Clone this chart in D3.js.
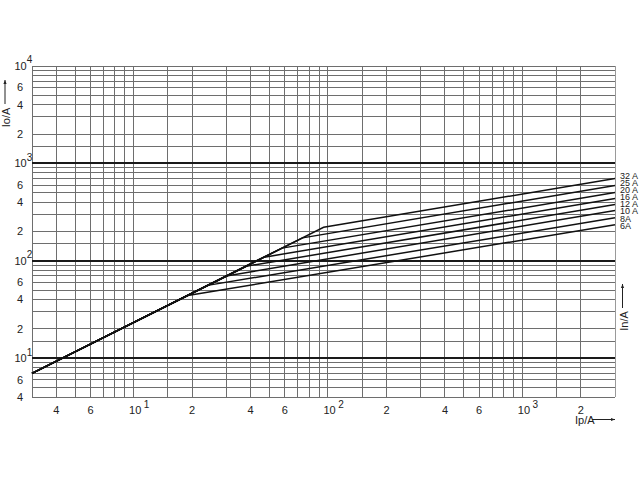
<!DOCTYPE html>
<html>
<head>
<meta charset="utf-8">
<style>
  body { margin: 0; background: #fff; }
  text { font-family: "Liberation Sans", Arial, sans-serif; fill: #222; }
</style>
<title>Cut-off current characteristic</title>
</head>
<body>
<div id="chart"></div>
<script src="https://cdnjs.cloudflare.com/ajax/libs/d3/7.8.5/d3.min.js"></script>
<script>
var width = 640, height = 480;
var box = {left: 32, right: 615, top: 66, bottom: 397};

// prospective current Ip (A) -> cut-off current Io (A)
var startIp = 3, startIo = 7;
var ratings = ['6A', '8A', '10 A', '12 A', '16 A', '20 A', '25 A', '32 A'];
var breakIp = [19, 24, 30, 38, 47, 58, 74, 95];
var breakIo = [44, 56, 70, 88, 109, 135, 172, 221];
var endIp = 3000;
var endIo = [235, 277, 328, 378, 436, 502, 593, 700];

var gridSteps = [1, 1.5, 2, 3, 4, 5, 6, 7, 8, 9];
var decades = [1, 10, 100, 1000, 10000];
var xTicks = [4, 6, 10, 20, 40, 60, 100, 200, 400, 600, 1000, 2000];
var yTicks = [4, 6, 10, 20, 40, 60, 100, 200, 400, 600, 1000, 2000, 4000, 6000, 10000];

var x = d3.scaleLog().domain([3, 3000]).range([box.left, box.right]);
var y = d3.scaleLog().domain([4, 10000]).range([box.bottom, box.top]);

var svg = d3.select('#chart').append('svg')
  .attr('width', width)
  .attr('height', height);

// grid values inside the domains
function gridValues(scale) {
  var d = scale.domain(), out = [];
  decades.forEach(function(dec) {
    gridSteps.forEach(function(s) {
      var v = +(dec * s).toPrecision(6);
      if (v >= d[0] - 1e-9 && v <= d[1] + 1e-9) out.push(v);
    });
  });
  return out;
}
function isDecade(v) { return Math.abs(Math.log10(v) - Math.round(Math.log10(v))) < 1e-9; }

var grid = svg.append('g').attr('shape-rendering', 'crispEdges');

grid.selectAll('.vgrid')
  .data(gridValues(x))
  .enter().append('line')
  .attr('x1', function(d) { return x(d); })
  .attr('x2', function(d) { return x(d); })
  .attr('y1', box.top)
  .attr('y2', box.bottom)
  .style('stroke', '#6e6e6e')
  .style('stroke-width', 1);

grid.selectAll('.hgrid')
  .data(gridValues(y))
  .enter().append('line')
  .attr('x1', box.left)
  .attr('x2', box.right)
  .attr('y1', function(d) { return y(d); })
  .attr('y2', function(d) { return y(d); })
  .style('stroke', function(d) { return isDecade(d) && d < 10000 ? '#1a1a1a' : '#6e6e6e'; })
  .style('stroke-width', function(d) { return isDecade(d) && d < 10000 ? 2 : 1; });

// right edge of the frame
grid.append('line')
  .attr('x1', x(3000)).attr('x2', x(3000))
  .attr('y1', box.top).attr('y2', box.bottom)
  .style('stroke', '#9a9a9a');

// curves
var line = d3.line()
  .x(function(d) { return x(d[0]); })
  .y(function(d) { return y(d[1]); });

var curves = ratings.map(function(r, i) {
  return [[startIp, startIo], [breakIp[i], breakIo[i]], [endIp, endIo[i]]];
});

svg.selectAll('.curve')
  .data(curves)
  .enter().append('path')
  .attr('d', line)
  .style('fill', 'none')
  .style('stroke', '#111')
  .style('stroke-width', 1.5);

// rating labels, stacked evenly beside the line ends
var labelY = d3.scaleLinear()
  .domain([0, ratings.length - 1])
  .range([y(endIo[0]) + 1, y(endIo[ratings.length - 1]) - 3]);

svg.selectAll('.rating')
  .data(ratings)
  .enter().append('text')
  .attr('x', 620)
  .attr('y', function(d, i) { return labelY(i); })
  .attr('dy', '0.35em')
  .style('font-size', '9px')
  .text(function(d) { return d; });

// tick labels
function labelFor(v) {
  var e = Math.round(Math.log10(v));
  return isDecade(v) ? {base: '10', sup: String(e)} : {base: String(Math.round(v / Math.pow(10, Math.floor(Math.log10(v))))), sup: null};
}

yTicks.forEach(function(v) {
  var l = labelFor(v);
  var t = svg.append('text')
    .attr('y', y(v))
    .attr('dy', '0.35em')
    .style('font-size', '11px');
  if (l.sup) {
    t.attr('x', 14.5).text(l.base);
    t.append('tspan').attr('dy', -6.5).style('font-size', '10px').text(l.sup);
  } else {
    t.attr('x', 23).attr('text-anchor', 'end').text(l.base);
  }
});

xTicks.forEach(function(v) {
  var l = labelFor(v);
  var t = svg.append('text')
    .attr('y', 414)
    .style('font-size', '11px');
  if (l.sup) {
    t.attr('x', x(v) - 4.5).text(l.base);
    t.append('tspan').attr('dx', 2.5).attr('dy', -6.5).style('font-size', '10px').text(l.sup);
  } else {
    t.attr('x', x(v)).attr('text-anchor', 'middle').text(l.base);
  }
});

// axis titles with arrows
function arrow(x1, y1, x2, y2) {
  svg.append('line')
    .attr('x1', x1).attr('y1', y1).attr('x2', x2).attr('y2', y2)
    .style('stroke', '#222').style('stroke-width', 1);
  var a = Math.atan2(y2 - y1, x2 - x1), s = 4;
  var p = [[x2, y2],
           [x2 - s * Math.cos(a) + 1.6 * Math.sin(a), y2 - s * Math.sin(a) - 1.6 * Math.cos(a)],
           [x2 - s * Math.cos(a) - 1.6 * Math.sin(a), y2 - s * Math.sin(a) + 1.6 * Math.cos(a)]];
  svg.append('path').attr('d', 'M' + p.join('L') + 'Z').style('fill', '#222');
}

svg.append('text')
  .attr('transform', 'translate(9.5,117.5) rotate(-90)')
  .attr('text-anchor', 'middle')
  .style('font-size', '11px')
  .text('Io/A');
arrow(5, 104, 5, 80);

svg.append('text')
  .attr('transform', 'translate(627.5,321) rotate(-90)')
  .attr('text-anchor', 'middle')
  .style('font-size', '11px')
  .text('In/A');
arrow(622.5, 308, 622.5, 284);

svg.append('text')
  .attr('x', 575)
  .attr('y', 423.5)
  .style('font-size', '11px')
  .text('Ip/A');
arrow(592, 419.5, 615, 419.5);
</script>
</body>
</html>
